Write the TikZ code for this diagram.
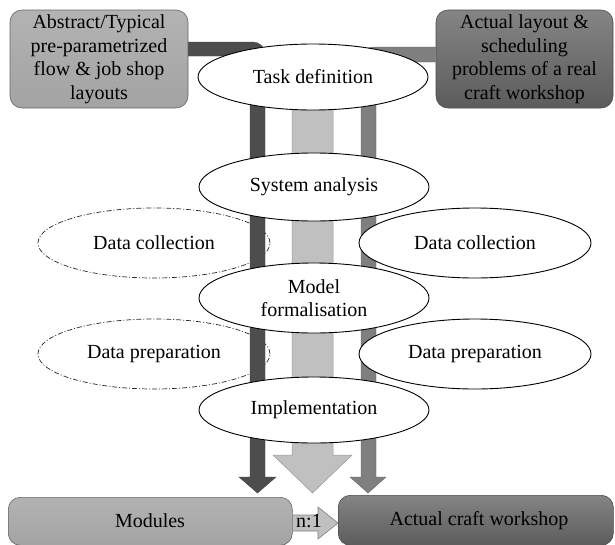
\documentclass[tikz,border=0pt]{standalone}
\usepackage{fontspec}
\setmainfont{Liberation Serif}
\usetikzlibrary{shapes.geometric}
\definecolor{darkbar}{HTML}{4D4D4D}
\definecolor{midbar}{HTML}{7F7F7F}
\definecolor{lightbar}{HTML}{C0C0C0}
\begin{document}
\begin{tikzpicture}[x=1pt,y=-1pt,
  every node/.style={font=\fontsize{20}{23.5}\selectfont, align=center, text=black},
  stage/.style={ellipse, draw=black, line width=0.9pt, fill=white, minimum width=230pt, minimum height=66pt, inner sep=0pt},
  dataleft/.style={ellipse, draw=black!85, line width=0.7pt, dash pattern=on 5pt off 2pt on 1pt off 2pt, minimum width=232pt, minimum height=70pt, inner sep=0pt},
  lightbox/.style={rectangle, rounded corners=12pt, draw=black!60, line width=0.6pt, top color=black!30, bottom color=black!36},
  darkbox/.style={rectangle, rounded corners=12pt, draw=black!70, line width=0.6pt, top color=black!48, bottom color=black!64},
]
\useasboundingbox (0,0) rectangle (615,544);
\fill[white] (0,0) rectangle (615,544);

% dashed data ellipses (left)
\node[dataleft] (dcl) at (154,243) {Data collection};
\node[dataleft] (dpl) at (154,354) {Data preparation};

% top boxes
\node[lightbox, minimum width=178pt, minimum height=98pt, inner sep=0pt] (abs) at (99,59)
  {Abstract/Typical\\pre-parametrized\\flow \& job shop\\layouts};
\node[darkbox, minimum width=177pt, minimum height=98pt, inner sep=0pt] (act) at (524.5,59)
  {Actual layout \&\\scheduling\\problems of a real\\craft workshop};

% bottom boxes
\begin{scope}
\clip (0,0) rectangle (615,544);
\node[lightbox, minimum width=284pt, minimum height=48pt, inner sep=0pt, anchor=north west] (mod) at (8,497) {};
\node[darkbox, minimum width=275pt, minimum height=50pt, inner sep=0pt, anchor=north west] (craft) at (338,495) {};
\end{scope}
\node at (150,521) {Modules};
\node at (479,521) {Actual craft workshop};

% bars / arrows
\filldraw[fill=darkbar, draw=black!75, line width=0.4pt, rounded corners=12pt]
  (abs.east |- 0,42) -- (265,42) -- (265,300) [sharp corners] -- (265,477) -- (276,477) -- (257.5,493)
  -- (239,477) -- (250,477) -- (250,56) -- (abs.east |- 0,56) -- cycle;
\filldraw[fill=midbar, draw=black!60, line width=0.4pt, rounded corners=12pt]
  (act.west |- 0,47) -- (361,47) -- (361,300) [sharp corners] -- (361,477) -- (350,477) -- (368,493)
  -- (386,477) -- (376,477) -- (376,62) -- (act.west |- 0,62) -- cycle;
\filldraw[fill=lightbar, draw=black!40, line width=0.5pt]
  (292,100) -- (333,100) -- (333,455) -- (352,455) -- (312.5,493) -- (273,455) -- (292,455) -- cycle;

% n:1 arrow
\filldraw[fill=lightbar, draw=black!50, line width=0.6pt]
  (mod.east |- 0,515) -- (318,515) -- (318,507) -- (craft.west |- 0,523) -- (318,539) -- (318,531) -- (mod.east |- 0,531) -- cycle;
\node at (309,521) {n:1};

% stages
\node[stage] (task) at (313,77) {Task definition};
\node[stage, minimum height=68pt] (sys) at (314,187) {System analysis};
\node[stage, minimum height=70pt] (model) at (314,298) {Model\\formalisation};
\node[stage] (impl) at (314,410) {Implementation};

% right data ellipses
\node[stage, minimum width=232pt, minimum height=70pt] (dcr) at (475,243) {Data collection};
\node[stage, minimum width=232pt, minimum height=70pt] (dpr) at (475,354) {Data preparation};
\end{tikzpicture}
\end{document}
